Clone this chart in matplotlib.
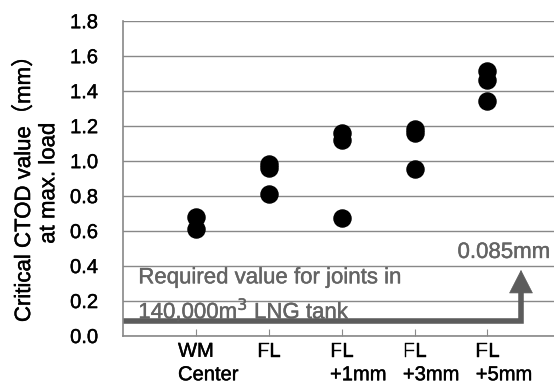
import matplotlib.pyplot as plt
import matplotlib.patheffects as pe
from matplotlib.transforms import ScaledTranslation

plt.rcParams['font.family'] = ['Liberation Sans', 'Noto Sans CJK JP']

# Critical CTOD values (mm)
categories = ['WM\nCenter', 'FL', 'FL\n+1mm', 'FL\n+3mm', 'FL\n+5mm']
wm_center = [0.68, 0.61]
fl = [0.98, 0.96, 0.81]
fl_1mm = [1.16, 1.12, 0.67]
fl_3mm = [1.18, 1.16, 0.95]
fl_5mm = [1.51, 1.46, 1.34]
ctod_values = [wm_center, fl, fl_1mm, fl_3mm, fl_5mm]
required_ctod = 0.085
y_ticks = [0.0, 0.2, 0.4, 0.6, 0.8, 1.0, 1.2, 1.4, 1.6, 1.8]

grey_text = '#646464'
grey_arrow = '#5c5c5c'

fig = plt.figure(figsize=(5.54, 3.87), dpi=100)
ax = fig.add_axes([0.222, 0.133, 0.7895, 0.8135])

# Data points
for i, vals in enumerate(ctod_values, start=1):
    ax.plot([i] * len(vals), vals, 'o', color='black', markersize=12.3,
            zorder=3, clip_on=False)

ax.set_xlim(0, 6)
ax.set_ylim(0, 1.8)
ax.set_yticks(y_ticks)
ax.set_yticklabels(['%.1f' % v for v in y_ticks])
ax.set_xticks(range(1, len(categories) + 1))
ax.set_xticklabels(categories, ha='left', multialignment='left')

ax.tick_params(axis='y', length=0, pad=18, labelsize=14.5)
ax.tick_params(axis='x', direction='in', length=5, color='#8a8a8a',
               pad=4.5, labelsize=14.5)
for lbl in ax.get_xticklabels():
    lbl.set_linespacing(1.3)

ax.yaxis.grid(True, color='#888888', lw=1)
ax.set_axisbelow(True)
for side in ['top', 'right']:
    ax.spines[side].set_visible(False)
for side in ['left', 'bottom']:
    ax.spines[side].set_color('#888888')
    ax.spines[side].set_linewidth(1.2)

# centre the first line of each x label on its tick, rest left aligned
fig.canvas.draw()
renderer = fig.canvas.get_renderer()
for lbl in ax.get_xticklabels():
    first = lbl.get_text().split('\n')[0]
    w, h, d = renderer.get_text_width_height_descent(
        first, lbl.get_fontproperties(), ismath=False)
    lbl.set_transform(lbl.get_transform() +
                      ScaledTranslation(-w / 2 / fig.dpi, 0, fig.dpi_scale_trans))

# Required value line with arrow
arrow_x = 5.46
ax.plot([0, arrow_x, arrow_x], [required_ctod, required_ctod, 0.25],
        lw=4, color=grey_arrow, solid_joinstyle='miter', solid_capstyle='butt',
        clip_on=False, zorder=2)
ax.annotate('', xy=(arrow_x, 0.375), xytext=(arrow_x, 0.2),
            arrowprops=dict(arrowstyle='-|>,head_length=1.6,head_width=0.82',
                            mutation_scale=10, lw=0.5, color=grey_arrow,
                            shrinkA=0, shrinkB=0))

ax.text(0.21, 0.33, 'Required value for joints in', color=grey_text,
        fontsize=16, va='center')
ax.text(0.21, 0.145, r'140,000m$^{3}$ LNG tank', color=grey_text,
        fontsize=16, va='center')
ax.text(5.86, 0.475, '0.085mm', color=grey_text, fontsize=16,
        va='center', ha='right')

fig.text(0.066, 0.527, 'Critical CTOD value（mm）\nat max. load',
         rotation=90, ha='center', va='center', multialignment='center',
         fontsize=16, linespacing=1.2)

# slightly heavier strokes on all text, like the reference rendering
for t in fig.findobj(lambda o: isinstance(o, plt.Text)):
    if t.get_text():
        t.set_path_effects([pe.withStroke(linewidth=0.3,
                                          foreground=t.get_color())])

fig.savefig('out.png', dpi=100)
